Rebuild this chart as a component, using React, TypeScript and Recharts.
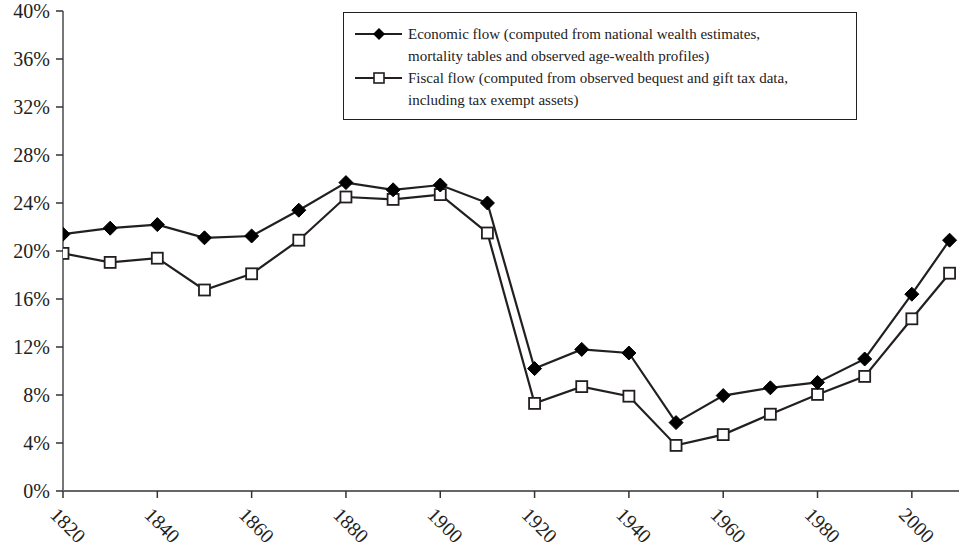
import React from "react";
import { Legend, Line, LineChart, XAxis, YAxis } from "recharts";

const years = [1820, 1830, 1840, 1850, 1860, 1870, 1880, 1890, 1900, 1910, 1920, 1930, 1940, 1950, 1960, 1970, 1980, 1990, 2000, 2008];
const economicFlow = [21.4, 21.9, 22.2, 21.1, 21.25, 23.4, 25.7, 25.1, 25.5, 24.0, 10.2, 11.8, 11.5, 5.7, 7.95, 8.6, 9.05, 11.0, 16.4, 20.9];
const fiscalFlow = [19.8, 19.05, 19.4, 16.75, 18.1, 20.9, 24.5, 24.3, 24.7, 21.5, 7.3, 8.7, 7.9, 3.8, 4.7, 6.4, 8.05, 9.55, 14.35, 18.15];

const xTicks = [1820, 1840, 1860, 1880, 1900, 1920, 1940, 1960, 1980, 2000];
const yTicks = [0, 4, 8, 12, 16, 20, 24, 28, 32, 36, 40];

const economicLabel = [
  "Economic flow (computed from national wealth estimates,",
  "mortality tables and observed age-wealth profiles)",
];
const fiscalLabel = [
  "Fiscal flow (computed from observed bequest and gift tax data,",
  "including tax exempt assets)",
];

const data = years.map((year, i) => ({
  year,
  economic: economicFlow[i],
  fiscal: fiscalFlow[i],
}));

const INK = "#231f20";
const TICK_FONT = "Liberation Serif";

const Diamond = (props: any) => {
  const { cx, cy, index } = props;
  if (cx == null || cy == null) return null;
  const r = 7;
  return (
    <path
      key={`dia-${index}`}
      d={`M${cx},${cy - r}L${cx + r},${cy}L${cx},${cy + r}L${cx - r},${cy}Z`}
      fill="#000"
      stroke="#000"
      strokeWidth={1}
    />
  );
};

const Square = (props: any) => {
  const { cx, cy, index } = props;
  if (cx == null || cy == null) return null;
  const s = 11;
  return (
    <rect
      key={`sq-${index}`}
      x={cx - s / 2}
      y={cy - s / 2}
      width={s}
      height={s}
      fill="#fff"
      stroke={INK}
      strokeWidth={1.8}
    />
  );
};

const YearTick = (props: any) => {
  const { x, y, payload } = props;
  return (
    <g transform={`translate(${x - 14},${y + 16})`}>
      <text
        x={0}
        y={0}
        transform="rotate(45)"
        textAnchor="start"
        fontFamily={TICK_FONT}
        fontSize={20}
        fill="#222"
      >
        {payload.value}
      </text>
    </g>
  );
};

const LegendRow = ({ lines, marker }: { lines: string[]; marker: "diamond" | "square" }) => (
  <div style={{ display: "flex", alignItems: "flex-start" }}>
    <svg width={56} height={22} style={{ flex: "none" }}>
      <line x1={3} y1={11} x2={50} y2={11} stroke={INK} strokeWidth={2} />
      {marker === "diamond" ? (
        <path d="M27,5L33,11L27,17L21,11Z" fill="#000" />
      ) : (
        <rect x={22} y={6} width={10} height={10} fill="#fff" stroke={INK} strokeWidth={1.6} />
      )}
    </svg>
    <div>
      {lines.map((l) => (
        <div key={l}>{l}</div>
      ))}
    </div>
  </div>
);

const renderLegend = () => (
  <div
    style={{
      border: `1px solid ${INK}`,
      background: "#fff",
      padding: "10px 8px 8px 8px",
      fontFamily: "'Liberation Serif', serif",
      fontSize: 15,
      lineHeight: "22px",
      color: "#222",
      boxSizing: "border-box",
      width: 514,
    }}
  >
    <LegendRow lines={economicLabel} marker="diamond" />
    <LegendRow lines={fiscalLabel} marker="square" />
  </div>
);

export default function App() {
  return (
    <div style={{ position: "absolute", left: 0, top: 0, width: 960, height: 550, background: "#fff" }}>
      <LineChart width={960} height={550} data={data} margin={{ top: 11, right: 1, left: 0, bottom: 0 }}>
        <XAxis
          dataKey="year"
          type="number"
          domain={[1820, 2010]}
          ticks={xTicks}
          interval={0}
          height={59}
          tick={<YearTick />}
          tickSize={7}
          stroke="#333"
          axisLine={{ stroke: "#333", strokeWidth: 1.5 }}
          tickLine={{ stroke: "#333", strokeWidth: 1.5 }}
          allowDataOverflow
        />
        <YAxis
          type="number"
          domain={[0, 40]}
          ticks={yTicks}
          interval={0}
          width={63}
          tickSize={7}
          tickMargin={6}
          tickFormatter={(v) => `${v}%`}
          tick={{ fontFamily: TICK_FONT, fontSize: 20, fill: "#222" }}
          axisLine={{ stroke: "#777", strokeWidth: 2 }}
          tickLine={{ stroke: "#333", strokeWidth: 1.5 }}
        />
        <Legend
          layout="horizontal"
          verticalAlign="middle"
          align="center"
          content={renderLegend}
          wrapperStyle={{ position: "absolute", left: 343, top: 12, width: 514 }}
        />
        <Line
          dataKey="fiscal"
          stroke={INK}
          strokeWidth={2.2}
          dot={Square}
          activeDot={false}
          isAnimationActive={false}
        />
        <Line
          dataKey="economic"
          stroke={INK}
          strokeWidth={2.2}
          dot={Diamond}
          activeDot={false}
          isAnimationActive={false}
        />
      </LineChart>
    </div>
  );
}
